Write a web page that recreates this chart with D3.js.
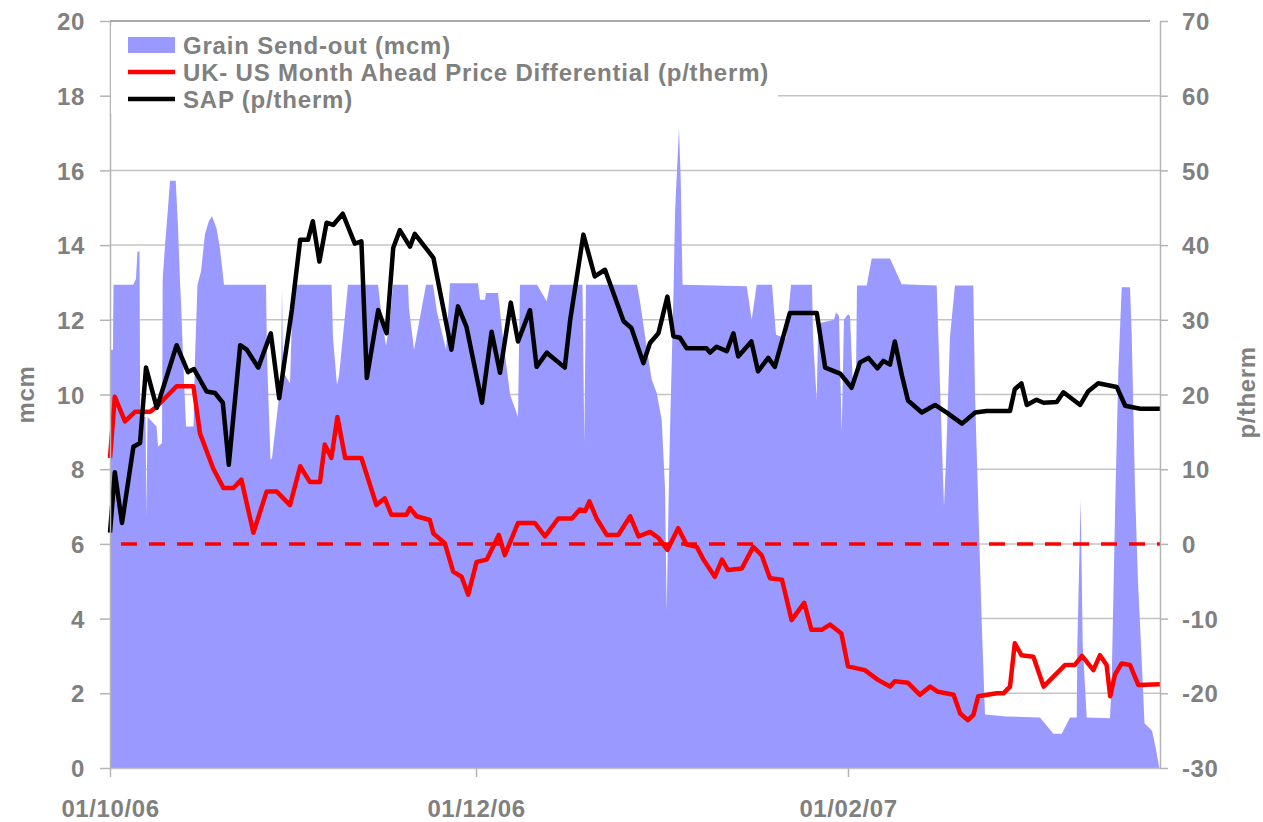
<!DOCTYPE html>
<html>
<head>
<meta charset="utf-8">
<script src="https://cdn.jsdelivr.net/npm/d3@7/dist/d3.min.js"></script>
<style>
  body { margin: 0; background: #fff; }
  #chart { width: 1263px; height: 822px; }
  #chart text { font-family: Arial, 'Liberation Sans', sans-serif; font-weight: bold; fill: #808080; }
</style>
</head>
<body>
<div id="chart"></div>
<script>
// ---- data (days counted from 01/10/06) ----
const START = '2006-10-01';
const END = '2007-03-25';

// grain send-out outline, mcm
const grainDays = [0, 0.5, 0.58, 3.88, 4.33, 4.58, 4.92, 5.03, 5.92, 6.08, 6.25, 7.75, 8.0, 8.67, 8.78, 9.17, 9.67, 10.0, 10.95, 11.33,
  11.67, 11.83, 12.17, 12.67, 13.92, 14.17, 14.58, 15.17, 15.83, 16.5, 17.0, 17.75, 18.33, 19.0, 26.0, 26.17, 26.75, 27.0, 28.5, 28.67,
  28.83, 30.0, 30.5, 36.92, 37.17, 37.83, 38.17, 39.67, 44.67, 45.33, 46.0, 46.67, 47.17, 49.67, 49.83, 50.67, 52.67, 53.83, 54.5, 56.0,
  56.67, 61.33, 61.67, 62.5, 62.67, 64.67, 65.5, 66.67, 68.0, 68.33, 71.17, 72.78, 73.33, 78.75, 79.05, 79.33, 87.83, 88.33, 89.45, 90.28,
  91.12, 91.95, 92.5, 92.78, 93.08, 93.33, 93.92, 94.17, 94.83, 95.12, 95.42, 106.12, 106.95, 107.78, 110.33, 111.0, 112.67, 113.5, 117.0, 117.17,
  117.78, 118.05, 120.67, 121.0, 121.5, 121.95, 122.33, 123.0, 123.33, 123.83, 124.33, 124.5, 126.12, 126.95, 130.0, 131.95, 137.78, 139.0, 139.33, 140.0,
  140.83, 143.88, 144.17, 144.72, 145.28, 145.83, 149.45, 155.0, 157.22, 158.62, 160.0, 161.12, 161.22, 161.78, 162.12, 162.78, 166.67, 166.95, 167.5, 168.05,
  168.62, 170.0, 170.28, 170.83, 171.33, 171.83, 172.42, 173.67, 174.33, 174.88];
const grainMcm = [11.2, 11.2, 12.94, 12.94, 13.1, 13.83, 13.83, 9.4, 9.4, 6.73, 9.4, 9.14, 8.6, 8.7, 13.07, 14.0, 15.0, 15.72, 15.72, 14.5,
  13.0, 12.5, 11.0, 9.14, 9.14, 11.0, 12.94, 13.3, 14.3, 14.65, 14.77, 14.45, 13.9, 12.94, 12.94, 11.0, 8.25, 8.3, 10.4, 12.9,
  10.6, 10.3, 12.94, 12.94, 11.5, 10.26, 10.5, 12.94, 12.94, 12.0, 11.3, 12.0, 12.94, 12.94, 12.3, 11.2, 12.94, 12.94, 12.2, 11.2,
  12.98, 12.98, 12.54, 12.54, 12.72, 12.72, 11.5, 10.0, 9.4, 12.94, 12.94, 12.5, 12.94, 12.94, 8.7, 12.94, 12.94, 12.5, 11.26, 10.4,
  10.04, 9.32, 7.5, 4.19, 7.0, 9.0, 12.73, 14.86, 17.13, 15.75, 12.94, 12.9, 12.0, 12.94, 12.94, 11.6, 11.5, 12.94, 12.94, 11.5,
  9.86, 11.9, 12.0, 12.2, 12.1, 8.96, 12.0, 12.15, 12.1, 10.2, 10.4, 12.92, 12.92, 13.64, 13.64, 12.95, 12.92, 7.0, 8.2, 11.55,
  12.92, 12.92, 9.98, 6.99, 3.91, 1.43, 1.38, 1.35, 0.92, 0.92, 1.35, 1.35, 3.28, 7.2, 3.3, 1.35, 1.33, 2.36, 6.79, 10.6,
  12.87, 12.87, 11.63, 7.5, 5.0, 3.3, 1.2, 1.0, 0.5, 0];

// UK-US month ahead price differential, p/therm
const diffDays = [0, 0.8, 2.5, 4.2, 6.7, 7.8, 11.1, 13.9, 15.0, 17.2, 18.9, 20.6, 21.9, 23.9, 26.1, 27.8, 30.0, 31.7, 33.3, 35.0,
  35.8, 36.9, 37.9, 39.2, 41.9, 44.4, 45.8, 46.9, 49.4, 50.0, 51.1, 53.3, 53.9, 55.8, 57.2, 58.6, 59.7, 61.1, 62.8, 64.8,
  65.8, 68.0, 70.8, 72.5, 74.7, 77.0, 78.3, 79.2, 79.9, 81.1, 82.8, 84.7, 86.7, 88.1, 90.0, 91.4, 92.9, 94.7, 96.1, 97.8,
  98.9, 100.8, 102.0, 103.0, 105.3, 107.2, 108.6, 110.0, 112.0, 113.6, 115.7, 116.9, 118.6, 120.0, 121.9, 123.0, 125.8, 128.0, 130.0, 130.8,
  133.0, 135.0, 136.7, 138.0, 140.6, 141.7, 143.0, 143.9, 144.7, 147.8, 148.9, 150.0, 150.8, 151.9, 153.9, 155.6, 157.2, 159.2, 160.8, 162.0,
  163.9, 165.0, 166.1, 166.7, 167.5, 168.6, 170.0, 171.4, 175.0];
const diffPence = [11.5, 19.7, 16.4, 17.7, 17.7, 18.4, 21.1, 21.1, 14.8, 10.1, 7.5, 7.5, 8.6, 1.5, 7.0, 7.0, 5.2, 10.4, 8.3, 8.3,
  13.3, 11.5, 17.0, 11.5, 11.5, 5.2, 6.1, 3.9, 3.9, 4.8, 3.7, 3.2, 1.4, 0.1, -3.7, -4.4, -6.8, -2.4, -2.1, 1.2,
  -1.5, 2.8, 2.8, 1.0, 3.4, 3.4, 4.6, 4.4, 5.7, 3.4, 1.2, 1.2, 3.7, 1.0, 1.6, 0.8, -0.8, 2.1, -0.1, -0.4,
  -2.1, -4.4, -2.1, -3.5, -3.3, -0.4, -1.5, -4.6, -4.8, -10.2, -7.9, -11.5, -11.5, -10.8, -12.0, -16.4, -16.9, -18.2, -19.1, -18.4,
  -18.6, -20.2, -19.1, -19.8, -20.2, -22.7, -23.6, -22.9, -20.4, -20.0, -20.0, -19.1, -13.3, -14.9, -15.1, -19.1, -17.8, -16.2, -16.2, -15.0,
  -16.9, -14.9, -16.2, -20.4, -17.5, -16.0, -16.2, -18.9, -18.8];

// SAP, p/therm
const sapDays = [0, 0.8, 2.0, 3.9, 5.0, 6.0, 7.8, 11.1, 13.0, 14.0, 16.1, 17.5, 18.8, 19.8, 21.7, 22.8, 24.7, 26.8, 28.2, 30.3,
  31.7, 33.0, 33.8, 34.9, 36.1, 37.2, 38.8, 40.8, 41.9, 42.8, 44.7, 46.1, 47.2, 48.3, 50.0, 50.8, 53.9, 56.9, 58.0, 59.4,
  62.0, 63.6, 65.0, 66.8, 68.0, 70.0, 71.1, 72.8, 75.8, 76.7, 78.9, 80.8, 82.5, 85.6, 86.9, 88.9, 90.0, 91.4, 92.9, 93.9,
  95.0, 96.1, 99.4, 100.0, 101.1, 102.8, 103.9, 104.7, 106.9, 108.0, 109.7, 110.8, 113.3, 117.8, 119.2, 121.7, 123.6, 125.0, 126.4, 127.9,
  128.9, 130.0, 130.8, 132.0, 133.0, 135.3, 137.5, 139.4, 142.0, 144.2, 146.1, 150.0, 150.8, 151.9, 152.8, 154.4, 155.6, 157.8, 158.9, 161.7,
  163.0, 164.7, 167.8, 169.2, 171.7, 175.0];
const sapPence = [1.5, 9.6, 2.8, 13.0, 13.5, 23.6, 18.2, 26.6, 23.0, 23.4, 20.4, 20.2, 18.9, 10.6, 26.6, 26.0, 23.6, 28.2, 19.5, 31.3,
  40.7, 40.7, 43.2, 37.8, 43.0, 42.7, 44.2, 40.2, 40.5, 22.2, 31.3, 28.2, 39.6, 42.0, 39.8, 41.5, 38.3, 26.0, 31.8, 29.1,
  18.9, 28.4, 22.9, 32.3, 27.1, 31.3, 23.7, 25.6, 23.6, 30.0, 41.4, 35.8, 36.7, 29.8, 28.9, 24.2, 26.9, 28.2, 33.1, 27.8,
  27.6, 26.2, 26.2, 25.6, 26.4, 25.8, 28.2, 25.1, 27.1, 23.1, 24.9, 23.7, 30.9, 30.9, 23.6, 22.8, 20.9, 24.3, 24.9, 23.5,
  24.5, 24.0, 27.1, 22.5, 19.2, 17.6, 18.6, 17.6, 16.1, 17.6, 17.8, 17.8, 20.7, 21.5, 18.6, 19.3, 18.9, 19.0, 20.3, 18.6,
  20.4, 21.5, 21.0, 18.5, 18.1, 18.1];

// axes and legend
const mcmTicks = [0, 2, 4, 6, 8, 10, 12, 14, 16, 18, 20];
const thermTicks = [-30, -20, -10, 0, 10, 20, 30, 40, 50, 60, 70];
const dateTicks = ['2006-10-01', '2006-12-01', '2007-02-01'];
const seriesNames = ['Grain Send-out (mcm)', 'UK- US Month Ahead Price Differential (p/therm)', 'SAP (p/therm)'];

// ---- chart ----
const WIDTH = 1263;
const HEIGHT = 822;
const MARGIN_TOP = 21;
const MARGIN_BOTTOM = 54;
const MARGIN_LEFT = 110;
const MARGIN_RIGHT = 103;

const GRID = '#c4c4c4';
const AXIS = '#b4b4b4';
const BLUE = '#9999ff';
const RED = '#ff0000';

const startDate = new Date(START);
const toDate = d => new Date(startDate.getTime() + d * 864e5);
const zip = (days, vals) => days.map((d, i) => ({ date: toDate(d), value: vals[i] }));

const grain = zip(grainDays, grainMcm);
const diff = zip(diffDays, diffPence);
const sap = zip(sapDays, sapPence);

const x = d3.scaleUtc()
  .domain([startDate, new Date(END)])
  .range([MARGIN_LEFT, WIDTH - MARGIN_RIGHT]);
const yLeft = d3.scaleLinear().domain([0, 20]).range([HEIGHT - MARGIN_BOTTOM, MARGIN_TOP]);
const yRight = d3.scaleLinear().domain([-30, 70]).range([HEIGHT - MARGIN_BOTTOM, MARGIN_TOP]);

const $svg = d3.select('#chart').append('svg')
  .attr('width', WIDTH)
  .attr('height', HEIGHT);

// gridlines (under the area)
const $grid = $svg.append('g').attr('class', 'grid');
$grid.selectAll('line')
  .data(mcmTicks.filter(t => t > 0))
  .join('line')
  .attr('x1', MARGIN_LEFT)
  .attr('x2', d => d === 20 ? x.range()[1] - 10 : x.range()[1])
  .attr('y1', d => yLeft(d))
  .attr('y2', d => yLeft(d))
  .attr('stroke', d => d === 20 ? '#8c8c8c' : GRID)
  .attr('stroke-width', 1.5);

// grain area
const area = d3.area()
  .x(d => x(d.date))
  .y0(yLeft(0))
  .y1(d => yLeft(d.value));
$svg.append('path')
  .datum(grain)
  .attr('d', area)
  .attr('fill', BLUE);

// zero line of the price axis
$svg.append('line')
  .attr('x1', x.range()[0] + 11)
  .attr('x2', x.range()[1])
  .attr('y1', yRight(0))
  .attr('y2', yRight(0))
  .attr('stroke', RED)
  .attr('stroke-width', 3.5)
  .attr('stroke-dasharray', '16 12');

const line = d3.line()
  .x(d => x(d.date))
  .y(d => yRight(d.value));

$svg.append('path')
  .datum(diff)
  .attr('d', line)
  .attr('fill', 'none')
  .attr('stroke', RED)
  .attr('stroke-width', 4.5)
  .attr('stroke-linejoin', 'round');

$svg.append('path')
  .datum(sap)
  .attr('d', line)
  .attr('fill', 'none')
  .attr('stroke', '#000')
  .attr('stroke-width', 4.5)
  .attr('stroke-linejoin', 'round');

// axes
function styleAxis(g) {
  g.selectAll('.domain').attr('stroke', AXIS).attr('stroke-width', 1.5);
  g.selectAll('.tick line').attr('stroke', AXIS).attr('stroke-width', 1.5);
  g.selectAll('.tick text')
    .attr('font-size', 24)
    .style('letter-spacing', '0.6px');
}

$svg.append('g')
  .attr('transform', `translate(${MARGIN_LEFT},0)`)
  .call(d3.axisLeft(yLeft).tickValues(mcmTicks).tickSize(10).tickPadding(15).tickSizeOuter(0))
  .call(styleAxis)
  .call(g => g.selectAll('.tick text').attr('dy', '0.36em'));

$svg.append('g')
  .attr('transform', `translate(${WIDTH - MARGIN_RIGHT},0)`)
  .call(d3.axisRight(yRight).tickValues(thermTicks).tickSize(8).tickPadding(14)
    .tickSizeOuter(0).tickFormat(d => String(d)))
  .call(styleAxis)
  .call(g => g.selectAll('.tick text').attr('dy', '0.36em'));

$svg.append('g')
  .attr('transform', `translate(0,${HEIGHT - MARGIN_BOTTOM})`)
  .call(d3.axisBottom(x)
    .tickValues(dateTicks.map(d => new Date(d)))
    .tickFormat(d3.utcFormat('%d/%m/%y'))
    .tickSize(9).tickPadding(23).tickSizeOuter(0))
  .call(styleAxis)
  .call(g => g.select('.domain').attr('stroke', GRID));

// axis titles
$svg.append('text')
  .attr('transform', `translate(25,${(yLeft(0) + yLeft(20)) / 2}) rotate(-90)`)
  .attr('text-anchor', 'middle')
  .attr('dy', '0.36em')
  .attr('font-size', 24)
  .style('letter-spacing', '0.6px')
  .text('mcm');

$svg.append('text')
  .attr('transform', `translate(1246,${(yLeft(0) + yLeft(20)) / 2 - 2}) rotate(-90)`)
  .attr('text-anchor', 'middle')
  .attr('dy', '0.36em')
  .attr('font-size', 24)
  .style('letter-spacing', '0.6px')
  .text('p/therm');

// legend
const $legend = $svg.append('g').attr('class', 'legend');
$legend.append('rect')
  .attr('x', MARGIN_LEFT + 1)
  .attr('y', 25)
  .attr('width', 667)
  .attr('height', 88)
  .attr('fill', '#fff');

const $items = $legend.selectAll('g.item')
  .data(seriesNames)
  .join('g')
  .attr('class', 'item')
  .attr('transform', (d, i) => `translate(128,${45 + i * 27})`);

$items.filter((d, i) => i === 0).append('rect')
  .attr('x', 0).attr('y', -8).attr('width', 47).attr('height', 16)
  .attr('fill', BLUE);
$items.filter((d, i) => i > 0).append('line')
  .attr('x1', 0).attr('x2', 47)
  .attr('stroke', (d, i) => i === 0 ? RED : '#000')
  .attr('stroke-width', 4.5);
$items.append('text')
  .attr('x', 55)
  .attr('dy', '0.36em')
  .attr('font-size', 24)
  .style('letter-spacing', '0.8px')
  .text(d => d);
</script>
</body>
</html>
